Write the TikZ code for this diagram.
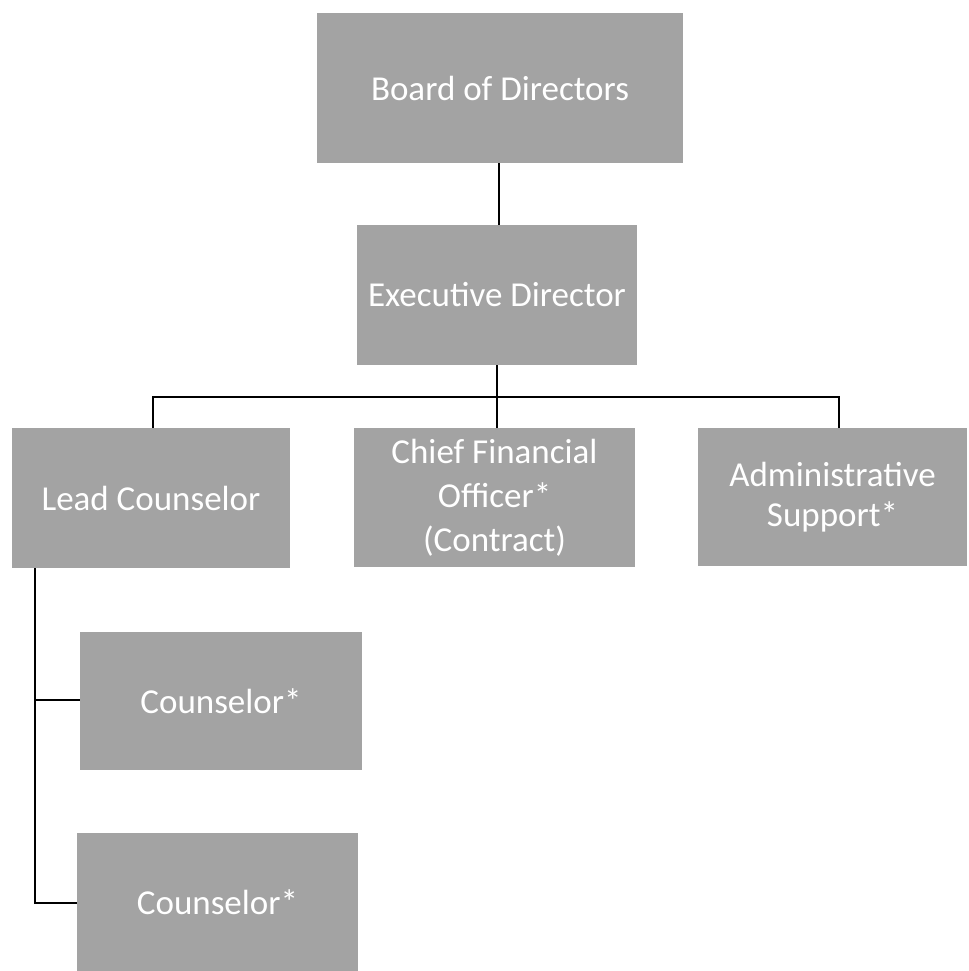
\documentclass[tikz,border=0pt]{standalone}
\usepackage{fontspec}
\setmainfont{Carlito}
\definecolor{boxgray}{RGB}{163,163,163}
\tikzset{
  orgbox/.style={rectangle, fill=boxgray, draw=none, text=white, align=center,
    inner sep=0pt, font=\fontsize{35bp}{40bp}\selectfont},
  conn/.style={draw=black, line width=1.2bp}
}
\begin{document}
\begin{tikzpicture}[x=1bp,y=-1bp]
\useasboundingbox (0,0) rectangle (969,971);
\node[orgbox, minimum width=366bp, minimum height=150bp] (board) at (500,88) {Board of Directors};
\node[orgbox, minimum width=280bp, minimum height=140bp] (exec) at (497,295) {Executive Director};
\node[orgbox, minimum width=278bp, minimum height=140bp] (lead) at (151,498) {Lead Counselor};
\node[orgbox, minimum width=281bp, minimum height=139bp, font=\fontsize{35bp}{44bp}\selectfont] (cfo) at (494.5,497.5) {Chief Financial\\Officer*\\(Contract)};
\node[orgbox, minimum width=269bp, minimum height=138bp] (admin) at (832.5,497) {Administrative\\Support*};
\node[orgbox, minimum width=282bp, minimum height=138bp] (c1) at (221,701) {Counselor*};
\node[orgbox, minimum width=281bp, minimum height=138bp] (c2) at (217.5,902) {Counselor*};
\coordinate (bus) at (497,397);
\coordinate (leadbus) at (35,568);
\coordinate (stub1) at (35,700);
\coordinate (stub2) at (35,903);
\draw[conn] (board.south -| 499,0) -- (exec.north -| 499,0);
\draw[conn] (exec.south) -- (bus);
\draw[conn] (lead.north -| 153,0) |- (bus) -| (admin.north -| 839,0);
\draw[conn] (bus) -- (cfo.north -| bus);
\draw[conn] (lead.south -| leadbus) -- (stub2) -- (c2.west |- stub2);
\draw[conn] (stub1) -- (c1.west |- stub1);
\end{tikzpicture}
\end{document}
